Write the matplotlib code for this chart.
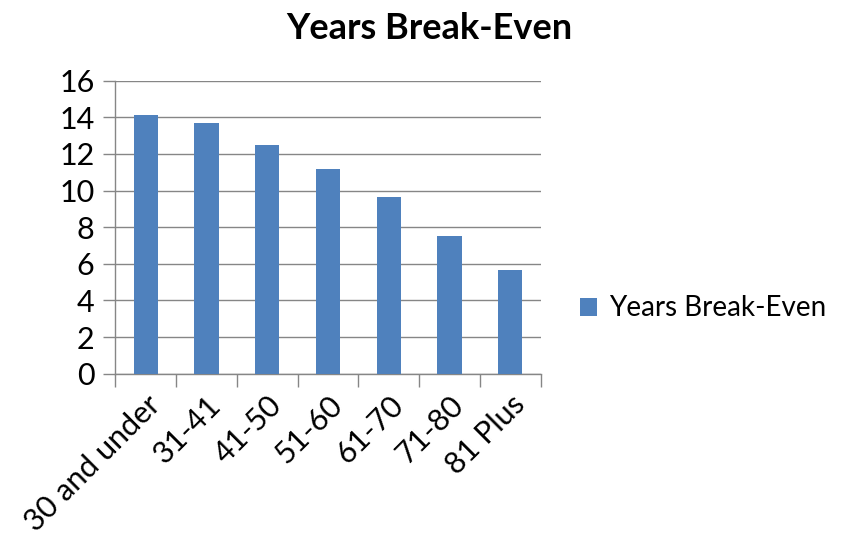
import matplotlib.pyplot as plt
import numpy as np

# data
categories = ['30 and under', '31-41', '41-50', '51-60', '61-70', '71-80', '81 Plus']
years_break_even = [14.15, 13.7, 12.5, 11.2, 9.65, 7.5, 5.65]
series_name = 'Years Break-Even'

plt.rcParams['font.family'] = ['Lato', 'DejaVu Sans']

fig = plt.figure(figsize=(8.41, 5.46), dpi=100)
ax = fig.add_axes([0.1371, 0.3156, 0.5058, 0.5366])

x = np.arange(len(categories))
bars = ax.bar(x, years_break_even, width=0.4, color='#4F81BD', label=series_name, zorder=3)

ax.set_xlim(-0.5, len(categories) - 0.5)
ax.set_ylim(0, 16)
ax.set_yticks(range(0, 17, 2))
ax.grid(axis='y', color='#868686', linewidth=1.0, zorder=0)

# category tick marks sit between the bars
ax.set_xticks(np.arange(-0.5, len(categories), 1.0), minor=False)
ax.set_xticklabels([])
ax.set_xticks(x, minor=True)
ax.set_xticklabels(categories, minor=True, rotation=45, ha='right', rotation_mode='anchor',
                   fontsize=22)
ax.tick_params(axis='x', which='major', length=9, color='#868686', width=1.0)
ax.tick_params(axis='x', which='minor', length=0, pad=12)
ax.tick_params(axis='y', length=9, color='#868686', width=1.0, labelsize=22, pad=6)

for side in ['top', 'right']:
    ax.spines[side].set_visible(False)
for side in ['left', 'bottom']:
    ax.spines[side].set_color('#868686')
    ax.spines[side].set_linewidth(1.0)

fig.text(0.511, 0.948, 'Years Break-Even', ha='center', va='center', fontsize=26, fontweight='bold')

leg = fig.legend(handles=[bars], labels=[series_name], loc='center left',
                 bbox_to_anchor=(0.66, 0.435), frameon=False, fontsize=20,
                 handlelength=0.6, handleheight=0.6, handletextpad=0.45)

fig.savefig('out.png', dpi=100)
